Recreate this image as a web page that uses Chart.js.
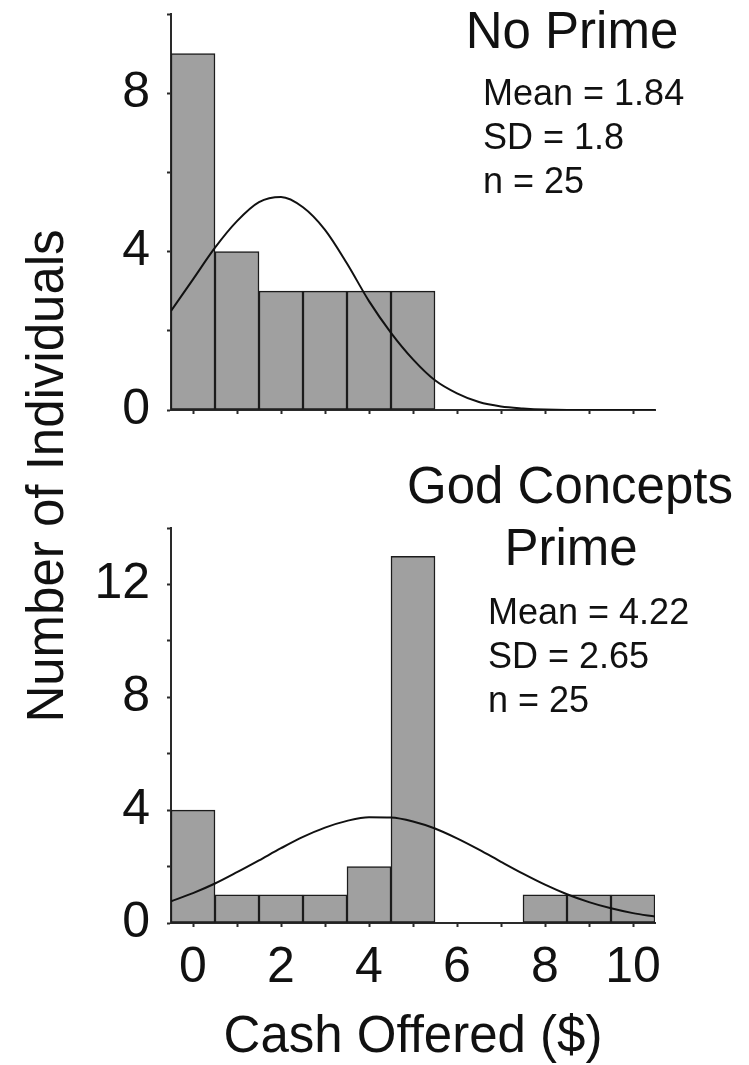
<!DOCTYPE html>
<html>
<head>
<meta charset="utf-8">
<script src="https://cdn.jsdelivr.net/npm/chart.js@4"></script>
<style>
  html, body { margin: 0; padding: 0; background: #fff; }
  #wrap { position: relative; width: 749px; height: 1065px; }
  #wrap canvas { position: absolute; left: 0; top: 0; }
</style>
</head>
<body>
<div id="wrap">
  <canvas id="topChart" width="749" height="1065"></canvas>
  <canvas id="bottomChart" width="749" height="1065"></canvas>
</div>
<script>
// Cash offered ($) categories, one bar each
const cashValues = [0, 1, 2, 3, 4, 5, 6, 7, 8, 9, 10];
const noPrimeCounts = [9, 4, 3, 3, 3, 3, 0, 0, 0, 0, 0];
const godPrimeCounts = [4, 1, 1, 1, 2, 13, 0, 0, 1, 1, 1];

// fitted normal curves, every half dollar
const curveX = [-0.5, 0, 0.5, 1, 1.5, 2, 2.5, 3, 3.5, 4, 4.5, 5, 5.5, 6, 6.5, 7, 7.5, 8, 8.5, 9, 9.5, 10, 10.5];
const noPrimeCurve = [2.5, 3.3, 4.1, 4.77, 5.25, 5.38, 5.12, 4.55, 3.7, 2.75, 1.95, 1.28, 0.75, 0.42, 0.2, 0.09, 0.04, 0.01, 0, 0, 0, 0, 0];
const godPrimeCurve = [0.77, 1.06, 1.4, 1.8, 2.22, 2.65, 3.05, 3.38, 3.62, 3.75, 3.74, 3.6, 3.35, 3.0, 2.6, 2.17, 1.75, 1.36, 1.02, 0.74, 0.52, 0.35, 0.23];

// axis ticks
const xTicks = [0, 1, 2, 3, 4, 5, 6, 7, 8, 9, 10];
const xTickLabels = ['0', '', '2', '', '4', '', '6', '', '8', '', '10'];
const yTicksTop = [0, 2, 4, 6, 8, 10];
const yTicksBottom = [0, 2, 4, 6, 8, 10, 12, 14];

const FONT = 'Arial, "Liberation Sans", Helvetica, sans-serif';
Chart.defaults.font.family = FONT;
Chart.defaults.color = '#111';

const AXIS_COLOR = '#2a2a2a';
const BAR_FILL = '#a0a0a0';
const BAR_EDGE = '#1c1c1c';

// draws free text (panel titles, stats, shared y title)
const textPlugin = {
  id: 'panelText',
  afterDraw(chart, args, opts) {
    const ctx = chart.ctx;
    ctx.save();
    ctx.fillStyle = '#111';
    (opts.items || []).forEach(it => {
      ctx.save();
      ctx.font = it.size + 'px ' + FONT;
      ctx.textAlign = it.align || 'left';
      ctx.textBaseline = 'alphabetic';
      ctx.translate(it.x, it.y);
      if (it.rotate) ctx.rotate(it.rotate);
      ctx.fillText(it.text, 0, 0);
      ctx.restore();
    });
    ctx.restore();
  }
};

function makeChart(canvasId, counts, curve, yTicks, yMax, areaTop, showXLabels, texts) {
  return new Chart(document.getElementById(canvasId), {
    type: 'bar',
    data: {
      datasets: [
        {
          type: 'line',
          data: curveX.map((x, i) => ({ x, y: curve[i] })),
          borderColor: '#111',
          borderWidth: 2,
          pointRadius: 0,
          fill: false,
          cubicInterpolationMode: 'monotone',
          order: 0,
        },
        {
          type: 'bar',
          data: cashValues.map((x, i) => ({ x, y: counts[i] })),
          backgroundColor: BAR_FILL,
          borderColor: BAR_EDGE,
          borderWidth: 1.5,
          borderSkipped: false,
          barPercentage: 1,
          categoryPercentage: 1,
          order: 1,
        },
      ],
    },
    options: {
      responsive: false,
      animation: false,
      events: [],
      layout: { padding: { left: 0, right: 94, top: areaTop, bottom: 0 } },
      plugins: {
        legend: { display: false },
        tooltip: { enabled: false },
        panelText: { items: texts },
      },
      scales: {
        x: {
          type: 'linear',
          min: -0.5,
          max: 10.5,
          offset: false,
          afterBuildTicks: s => { s.ticks = xTicks.map(v => ({ value: v })); },
          afterFit: s => {
            s.height = 1065 - (showXLabels ? 923 : 410);
            s.paddingLeft = 0;
            s.paddingRight = 0;
          },
          border: { color: AXIS_COLOR, width: 2 },
          grid: { offset: false, drawOnChartArea: false, tickLength: 4, tickColor: AXIS_COLOR, tickWidth: 2 },
          ticks: {
            autoSkip: false,
            maxRotation: 0,
            padding: 16,
            font: { size: 50, lineHeight: 1 },
            callback: (v, i) => showXLabels ? xTickLabels[i] : '',
          },
          title: {
            display: showXLabels,
            text: 'Cash Offered ($)',
            font: { size: 51, lineHeight: 1 },
            padding: { top: 0, bottom: 2 },
          },
        },
        y: {
          min: 0,
          max: yMax,
          afterBuildTicks: s => { s.ticks = yTicks.map(v => ({ value: v })); },
          afterFit: s => {
            s.width = 171;
            s.paddingTop = 0;
            s.paddingBottom = 0;
          },
          border: { color: AXIS_COLOR, width: 2 },
          grid: { drawOnChartArea: false, tickLength: 4, tickColor: AXIS_COLOR, tickWidth: 2 },
          ticks: {
            padding: 17,
            font: { size: 50, lineHeight: 1 },
            callback: v => (v % 4 === 0 ? String(v) : ''),
          },
        },
      },
    },
    plugins: [textPlugin],
  });
}

makeChart('topChart', noPrimeCounts, noPrimeCurve, yTicksTop, 10, 14, false, [
  { text: 'No Prime', x: 572, y: 48, size: 51, align: 'center' },
  { text: 'Mean = 1.84', x: 483, y: 105, size: 36 },
  { text: 'SD = 1.8', x: 483, y: 149, size: 36 },
  { text: 'n = 25', x: 483, y: 193, size: 36 },
  { text: 'Number of Individuals', x: 63, y: 476, size: 51, align: 'center', rotate: -Math.PI / 2 },
]);

makeChart('bottomChart', godPrimeCounts, godPrimeCurve, yTicksBottom, 14, 528, true, [
  { text: 'God Concepts', x: 570, y: 503, size: 51, align: 'center' },
  { text: 'Prime', x: 571, y: 565, size: 51, align: 'center' },
  { text: 'Mean = 4.22', x: 488, y: 624, size: 36 },
  { text: 'SD = 2.65', x: 488, y: 668, size: 36 },
  { text: 'n = 25', x: 488, y: 712, size: 36 },
]);
</script>
</body>
</html>
